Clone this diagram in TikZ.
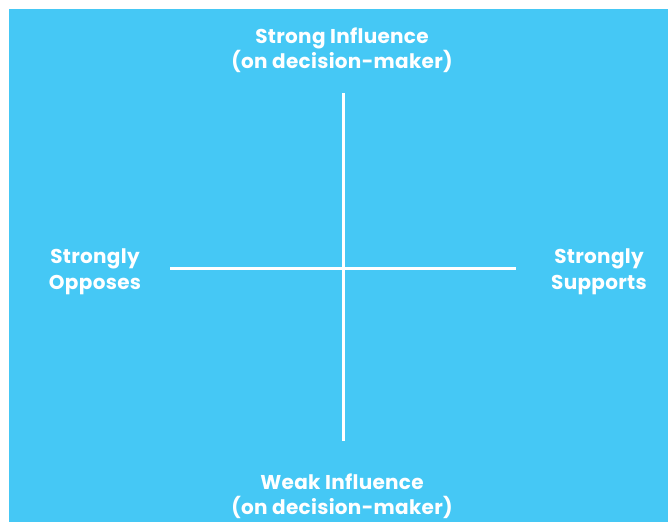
\documentclass[tikz,border=0pt]{standalone}
\usepackage{fontspec}
\setmainfont{Poppins}[BoldFont={* Bold},LetterSpace=1.5]
\definecolor{skyblue}{HTML}{45C8F5}
\begin{document}
\begin{tikzpicture}[x=1pt,y=-1pt,
  axis/.style={white,line width=3pt},
  lbl/.style={text=white,font=\bfseries\fontsize{20}{25.5}\selectfont,align=center,inner sep=0pt}]
\useasboundingbox (0,0) rectangle (668,522);
\fill[skyblue] (9,9) rectangle (668,522);
% axes of the grid
\coordinate (top) at (343,93);
\coordinate (bot) at (343,441);
\coordinate (left) at (170,268);
\coordinate (right) at (516,268);
\draw[axis] (top) -- (bot);
\draw[axis] (left) -- (right);
% quadrant labels
\node[lbl] (strong) at (342,50) {Strong Influence\\(on decision-maker)};
\node[lbl] (oppose) at (95,272) {Strongly\\Opposes};
\node[lbl] (support) at (599,272) {Strongly\\Supports};
\node[lbl] (weak) at (342,496) {Weak Influence\\(on decision-maker)};
\end{tikzpicture}
\end{document}
